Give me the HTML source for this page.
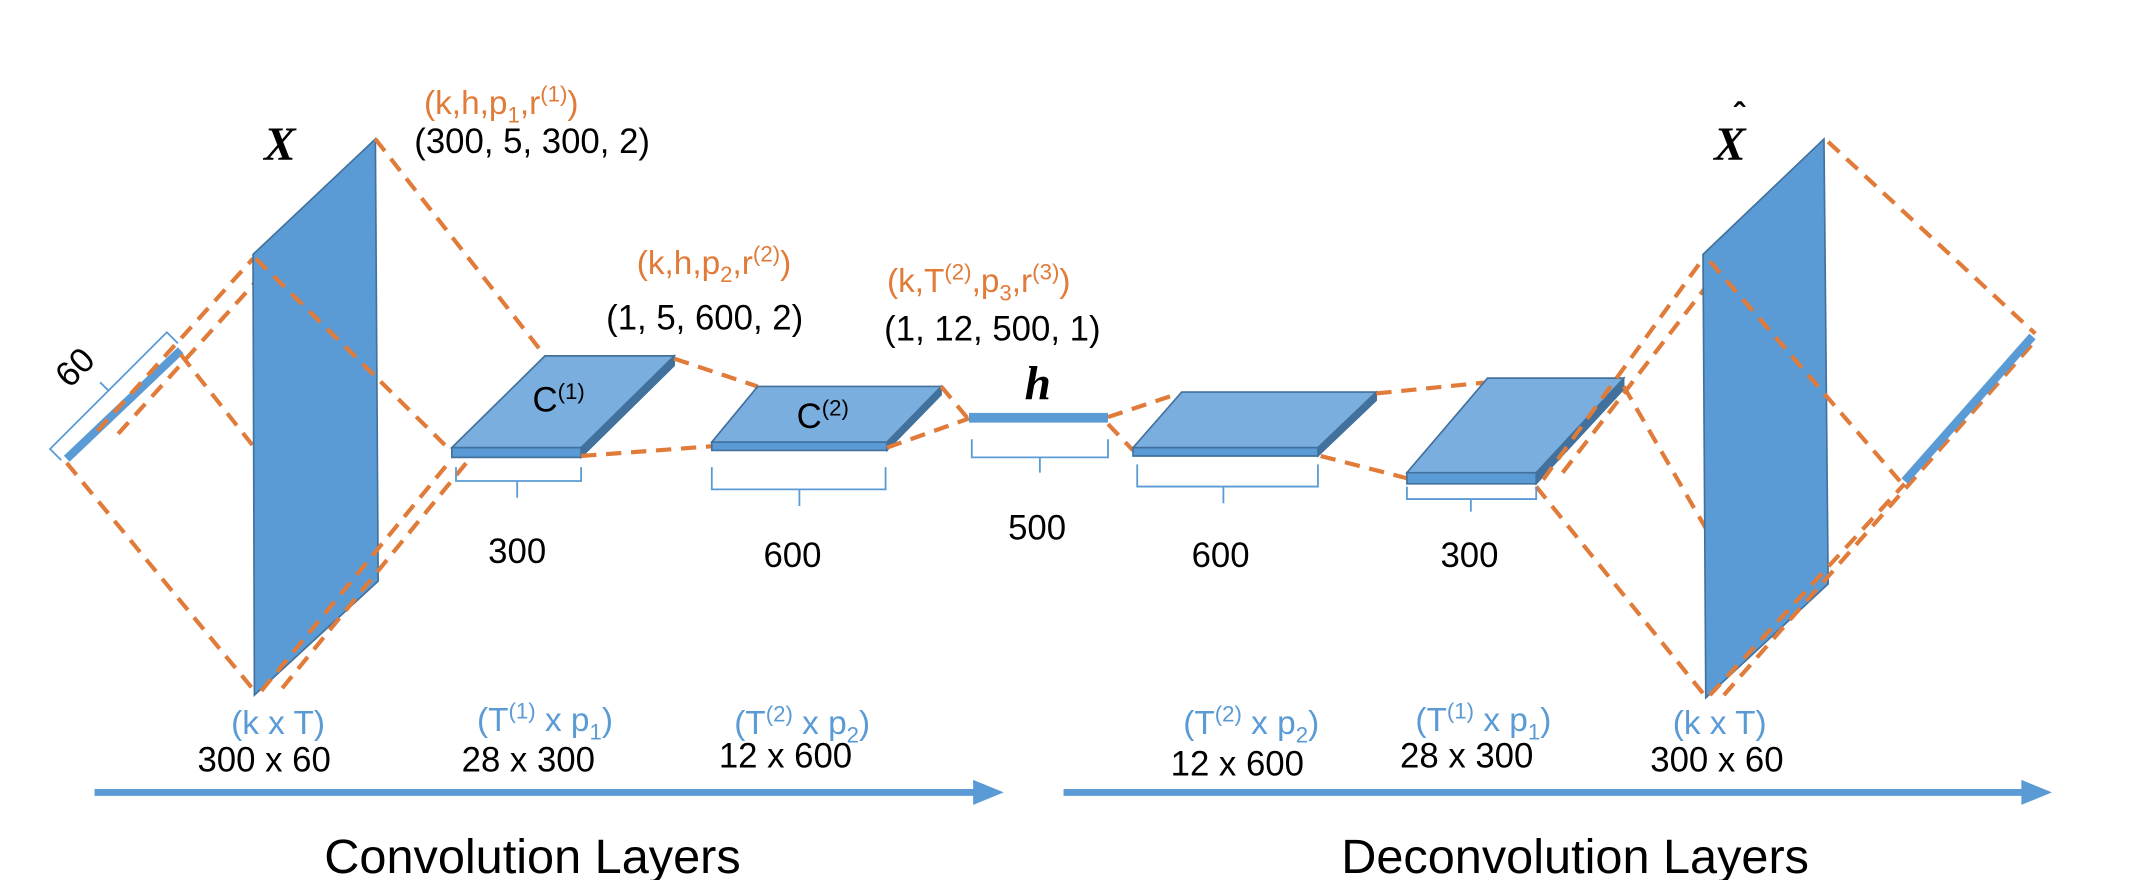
<!DOCTYPE html>
<html><head><meta charset="utf-8"><style>
html,body{margin:0;padding:0;background:#fff;}
svg{display:block;}
text{font-family:"Liberation Sans",sans-serif;}
.o{fill:#e07b39;font-size:24px;}
.k{fill:#000;font-size:25px;}
.b{fill:#5b9bd5;font-size:24px;}
.d{stroke:#e07b39;stroke-width:3;stroke-dasharray:11 7;fill:none;}
.br{stroke:#5b9bd5;stroke-width:1.3;fill:none;}
.top{fill:#7aaedf;stroke:#41719c;stroke-width:1.2;}
.edge{fill:#5b9bd5;stroke:#41719c;stroke-width:1.2;}
.side{fill:#41719c;stroke:#41719c;stroke-width:1;}
.pan{fill:#5b9bd5;stroke:#41719c;stroke-width:1.2;}
.m{font-family:"Liberation Serif",serif;font-style:italic;font-weight:bold;font-size:34px;fill:#000;}
</style></head><body>
<svg width="2134" height="880" viewBox="0 0 1535 633">
<g>
<line x1="48" y1="330" x2="130" y2="252" stroke="#5b9bd5" stroke-width="6"/>
<path class="br" d="M44,331 L36,323 L78,281 L72,275 L78,281 L120,239 L128,247"/>
<text class="k" transform="translate(50,280) rotate(-45)">60</text>
</g>
<g>
<line class="d" x1="48" y1="333" x2="183" y2="497"/>
<line class="d" x1="130" y1="255" x2="183" y2="322"/>
<line class="d" x1="70" y1="310" x2="182" y2="186"/>
<line class="d" x1="85" y1="312" x2="190" y2="196"/>
</g>
<polygon class="pan" points="182,183 270,100 272,418 183,500"/>
<text class="m" x="190" y="115">X</text>
<g>
<line class="d" x1="270" y1="100" x2="392" y2="256"/>
<line class="d" x1="184" y1="186" x2="325" y2="325"/>
<line class="d" x1="188" y1="497" x2="325" y2="330"/>
<line class="d" x1="203" y1="495" x2="337" y2="331"/>
</g>
<text class="o" x="305" y="82">(k,h,p<tspan font-size="16" dy="6">1</tspan><tspan dy="-6">,r</tspan><tspan font-size="16" dy="-9">(1)</tspan><tspan dy="9">)</tspan></text>
<text class="k" x="298" y="110">(300, 5, 300, 2)</text>
<g>
<polygon class="side" points="418,322 485,256 485,263 418,329"/>
<polygon class="edge" points="325,322 418,322 418,329 325,329"/>
<polygon class="top" points="325,322 392,256 485,256 418,322"/>
<text class="k" x="383" y="296">C<tspan font-size="16" dy="-9">(1)</tspan></text>
</g>
<line class="d" x1="485" y1="258" x2="545" y2="278"/>
<line class="d" x1="418" y1="328" x2="512" y2="321"/>
<text class="o" x="458" y="197">(k,h,p<tspan font-size="16" dy="6">2</tspan><tspan dy="-6">,r</tspan><tspan font-size="16" dy="-9">(2)</tspan><tspan dy="9">)</tspan></text>
<text class="k" x="436" y="237">(1, 5, 600, 2)</text>
<g>
<polygon class="side" points="638,318 677,278 677,284 638,324"/>
<polygon class="edge" points="512,318 638,318 638,324 512,324"/>
<polygon class="top" points="512,318 545,278 677,278 638,318"/>
<text class="k" x="573" y="308">C<tspan font-size="16" dy="-9">(2)</tspan></text>
</g>
<line class="d" x1="677" y1="278" x2="697" y2="302"/>
<line class="d" x1="638" y1="322" x2="697" y2="301"/>
<text class="o" x="638" y="210">(k,T<tspan font-size="16" dy="-9">(2)</tspan><tspan dy="9">,p</tspan><tspan font-size="16" dy="6">3</tspan><tspan dy="-6">,r</tspan><tspan font-size="16" dy="-9">(3)</tspan><tspan dy="9">)</tspan></text>
<text class="k" x="636" y="245">(1, 12, 500, 1)</text>
<rect x="697" y="297" width="100" height="7" fill="#5b9bd5"/>
<text class="m" x="737" y="287">h</text>
<line class="d" x1="797" y1="300" x2="848" y2="283"/>
<line class="d" x1="797" y1="305" x2="815" y2="324"/>
<g>
<polygon class="side" points="948,322 990,282 990,288 948,328"/>
<polygon class="edge" points="815,322 948,322 948,328 815,328"/>
<polygon class="top" points="815,322 850,282 990,282 948,322"/>
</g>
<line class="d" x1="990" y1="283" x2="1070" y2="275"/>
<line class="d" x1="950" y1="328" x2="1012" y2="344"/>
<g>
<polygon class="side" points="1105,340 1168,272 1168,280 1105,348"/>
<polygon class="edge" points="1012,340 1105,340 1105,348 1012,348"/>
<polygon class="top" points="1012,340 1070,272 1168,272 1105,340"/>
</g>
<g>
<line class="d" x1="1110" y1="345" x2="1225" y2="186"/>
<line class="d" x1="1124" y1="340" x2="1232" y2="200"/>
<line class="d" x1="1168" y1="278" x2="1227" y2="380"/>
<line class="d" x1="1105" y1="350" x2="1226" y2="500"/>
</g>
<polygon class="pan" points="1225,183 1312,100 1315,420 1227,502"/>
<text class="m" x="1233" y="115">X</text>
<text x="1247" y="91" font-family="Liberation Serif,serif" font-size="24" font-weight="bold" fill="#000">ˆ</text>
<g>
<line class="d" x1="1315" y1="102" x2="1464" y2="240"/>
<line class="d" x1="1230" y1="188" x2="1370" y2="350"/>
<line class="d" x1="1230" y1="500" x2="1370" y2="348"/>
<line class="d" x1="1240" y1="500" x2="1465" y2="244"/>
</g>
<line x1="1370" y1="346" x2="1462" y2="242" stroke="#5b9bd5" stroke-width="6"/>
<g>
<path class="br" d="M328,336 V346 H372 V358 M372,346 H418 V336"/>
<path class="br" d="M512,336 V352 H575 V364 M575,352 H637 V336"/>
<path class="br" d="M699,316 V329 H748 V340 M748,329 H797 V316"/>
<path class="br" d="M818,334 V350 H880 V362 M880,350 H948 V334"/>
<path class="br" d="M1012,350 V359 H1058 V368 M1058,359 H1105 V350"/>
</g>
<text class="k" x="372" y="405" text-anchor="middle">300</text>
<text class="k" x="570" y="408" text-anchor="middle">600</text>
<text class="k" x="746" y="388" text-anchor="middle">500</text>
<text class="k" x="878" y="408" text-anchor="middle">600</text>
<text class="k" x="1057" y="408" text-anchor="middle">300</text>
<g>
<text class="b" x="200" y="528" text-anchor="middle">(k x T)</text>
<text class="k" x="190" y="555" text-anchor="middle">300 x 60</text>
<text class="b" x="392" y="526" text-anchor="middle">(T<tspan font-size="16" dy="-9">(1)</tspan><tspan dy="9"> x p</tspan><tspan font-size="16" dy="6">1</tspan><tspan dy="-6">)</tspan></text>
<text class="k" x="380" y="555" text-anchor="middle">28 x 300</text>
<text class="b" x="577" y="528" text-anchor="middle">(T<tspan font-size="16" dy="-9">(2)</tspan><tspan dy="9"> x p</tspan><tspan font-size="16" dy="6">2</tspan><tspan dy="-6">)</tspan></text>
<text class="k" x="565" y="552" text-anchor="middle">12 x 600</text>
<text class="b" x="900" y="528" text-anchor="middle">(T<tspan font-size="16" dy="-9">(2)</tspan><tspan dy="9"> x p</tspan><tspan font-size="16" dy="6">2</tspan><tspan dy="-6">)</tspan></text>
<text class="k" x="890" y="558" text-anchor="middle">12 x 600</text>
<text class="b" x="1067" y="526" text-anchor="middle">(T<tspan font-size="16" dy="-9">(1)</tspan><tspan dy="9"> x p</tspan><tspan font-size="16" dy="6">1</tspan><tspan dy="-6">)</tspan></text>
<text class="k" x="1055" y="552" text-anchor="middle">28 x 300</text>
<text class="b" x="1237" y="528" text-anchor="middle">(k x T)</text>
<text class="k" x="1235" y="555" text-anchor="middle">300 x 60</text>
</g>
<g>
<line x1="68" y1="570" x2="702" y2="570" stroke="#5b9bd5" stroke-width="5"/>
<polygon points="700,561 722,570 700,579" fill="#5b9bd5"/>
</g>
<g>
<line x1="765" y1="570" x2="1456" y2="570" stroke="#5b9bd5" stroke-width="5"/>
<polygon points="1454,561 1476,570 1454,579" fill="#5b9bd5"/>
</g>
<text x="383" y="628" text-anchor="middle" font-size="35" fill="#000">Convolution Layers</text>
<text x="1133" y="628" text-anchor="middle" font-size="35" fill="#000">Deconvolution Layers</text>
</svg>
</body></html>
